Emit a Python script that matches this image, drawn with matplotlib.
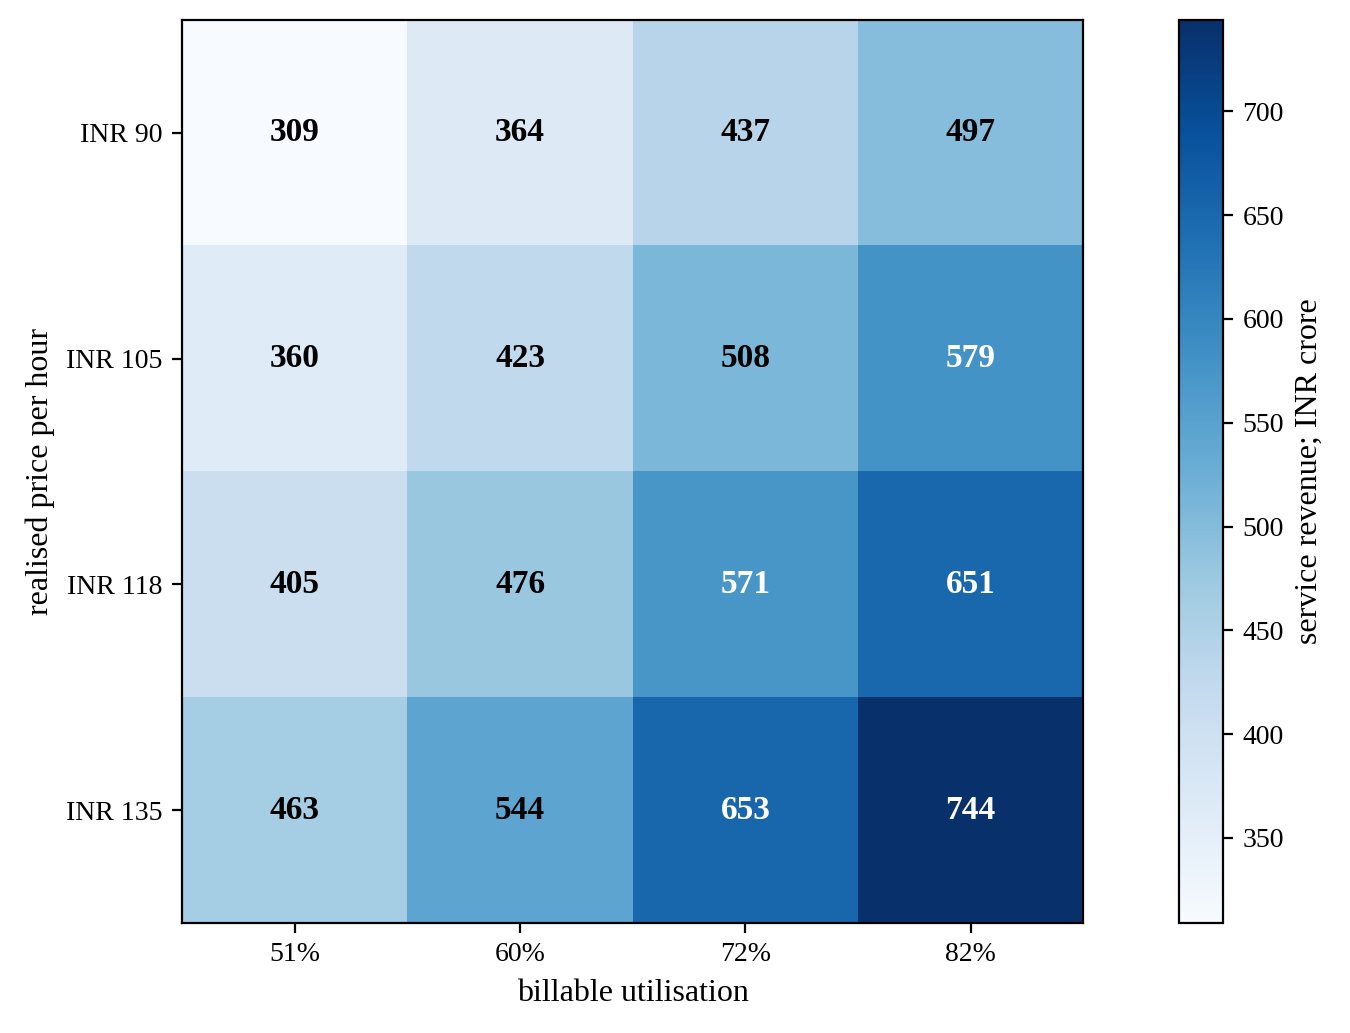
import numpy as np
import matplotlib
matplotlib.use('Agg')
import matplotlib.pyplot as plt

plt.rcParams['font.family'] = ['Liberation Serif', 'DejaVu Serif']

utilisation = ['51%', '60%', '72%', '82%']
prices = ['INR 90', 'INR 105', 'INR 118', 'INR 135']
revenue = np.array([
    [309, 364, 437, 497],
    [360, 423, 508, 579],
    [405, 476, 571, 651],
    [463, 544, 653, 744],
])

fig = plt.figure(figsize=(6.75, 5.165), dpi=200)
ax = fig.add_axes([0.135, 0.1065, 0.6675, 0.8741])
cax = fig.add_axes([0.8733, 0.1065, 0.0326, 0.8741])

vmin, vmax = revenue.min(), revenue.max()
im = ax.imshow(revenue, cmap='Blues', vmin=vmin, vmax=vmax, aspect='auto')

ax.set_xticks(range(len(utilisation)))
ax.set_xticklabels(utilisation)
ax.set_yticks(range(len(prices)))
ax.set_yticklabels(prices)
ax.set_xlabel('billable utilisation', fontsize=11.5)
ax.set_ylabel('realised price per hour', fontsize=11.5)

# dark cells get white text
cut = vmin + 0.55 * (vmax - vmin)
for i in range(revenue.shape[0]):
    for j in range(revenue.shape[1]):
        v = revenue[i, j]
        ax.text(j, i, str(v), ha='center', va='center', fontweight='bold',
                fontsize=12, color='white' if v > cut else 'black')

cb = fig.colorbar(im, cax=cax)
cb.set_label('service revenue; INR crore', fontsize=11.5)

fig.savefig('out.png', dpi=200)
